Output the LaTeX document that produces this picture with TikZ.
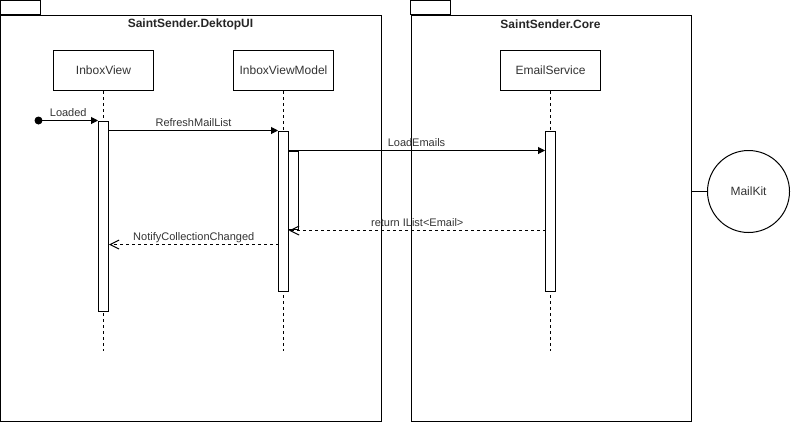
\documentclass[tikz,border=0pt]{standalone}
\usepackage{fontspec}
\setmainfont{Liberation Sans}
\usetikzlibrary{arrows.meta}

\begin{document}
\begin{tikzpicture}[x=1pt, y=-1pt, line width=1pt,
    every node/.style={font=\fontsize{12}{14}\selectfont, text=black!80},
    pkg/.style={draw, inner sep=0pt, anchor=north west},
    pkgtitle/.style={font=\bfseries\fontsize{12}{14}\selectfont, text=black!85},
    obj/.style={draw, minimum width=100pt, minimum height=40pt, inner sep=0pt},
    bar/.style={draw, fill=white, minimum width=10pt, inner sep=0pt, anchor=north},
    life/.style={dash pattern=on 3pt off 3pt},
    msg/.style={-{Triangle[length=7pt,width=7pt]}},
    ret/.style={dash pattern=on 3pt off 3pt, -{Straight Barb[length=9pt,width=9pt]}},
    lbl/.style={midway, above, font=\fontsize{11}{13}\selectfont, inner sep=1.5pt, text depth=2.5pt}]

      \useasboundingbox (-0.5,-0.5) rectangle (790.5,420.5);

      % The two packages.
      \draw (0,0) rectangle (40,14);
      \node[pkg, minimum width=380pt, minimum height=406pt] (ui) at (0,14) {};
      \node[pkgtitle] (uititle) at (190,24) {SaintSender.DektopUI};

      \draw (410,0) rectangle (450,14);
      \node[pkg, minimum width=280pt, minimum height=406pt] (core) at (410,14) {};
      \node[pkgtitle] (coretitle) at (550,24) {SaintSender.Core};

      % The objects.
      \node[obj] (iv) at (103,70) {InboxView};
      \node[obj] (ivm) at (283,70) {InboxViewModel};
      \node[obj] (es) at (550,70) {EmailService};

      % The lifelines.
      \coordinate (ivend) at (103,350);
      \coordinate (ivmend) at (283,350);
      \coordinate (esend) at (550,350);
      \draw[life] (iv.south) -- (ivend);
      \draw[life] (ivm.south) -- (ivmend);
      \draw[life] (es.south) -- (esend);

      % The activation bars.
      \node[bar, minimum height=190pt] (ivbar) at (103,120) {};
      \node[bar, minimum height=160pt] (ivmbar) at (283,130) {};
      \node[bar, minimum height=78pt] (loadbar) at (293,150) {};
      \node[bar, minimum height=160pt] (esbar) at (550,130) {};

      % The messages.
      \fill (38,120) circle [radius=4] coordinate (start);
      \draw[msg] (start) -- (ivbar.north west) node[lbl] {Loaded};
      \draw[msg] (ivbar.east |- ivmbar.north) -- (ivmbar.north west)
        node[lbl] {RefreshMailList};
      \draw[msg] (loadbar.north west) -- (esbar.west |- loadbar.north)
        node[lbl] {LoadEmails};
      \coordinate (back) at (545,230);
      \draw[ret] (back) -- (ivmbar.east |- back)
        node[lbl] {return IList<Email>};
      \coordinate (notify) at (278,244);
      \draw[ret] (notify) -- (ivbar.east |- notify)
        node[lbl] {NotifyCollectionChanged};

      % The library.
      \node[draw, circle, minimum size=82pt, inner sep=0pt] (mailkit) at (748,191) {MailKit};
      \draw (mailkit.west) -- (mailkit -| core.east);

\end{tikzpicture}
\end{document}
